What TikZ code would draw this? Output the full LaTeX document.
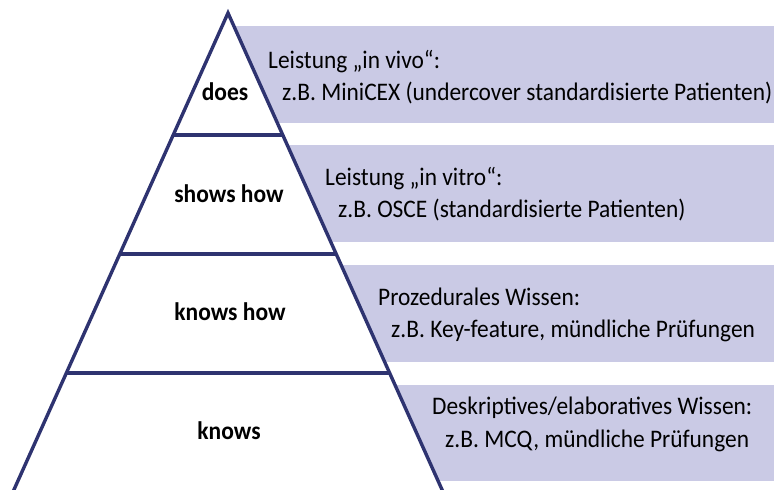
\documentclass[tikz,border=0pt]{standalone}
\usepackage{fontspec}
\usepackage{graphicx}
\setmainfont{Carlito}
\definecolor{navy}{HTML}{2E3370}
\definecolor{lav}{HTML}{CACAE5}
\newcommand{\tallx}[1]{\scalebox{1}[1.08]{#1}}
\begin{document}
\begin{tikzpicture}[x=1pt,y=-1pt,
  band/.style={fill=lav,draw=none},
  lvl/.style={font=\fontsize{23.5}{27}\selectfont\bfseries,anchor=base,inner sep=0pt},
  desc/.style={font=\fontsize{23.4}{27}\selectfont,anchor=base west,inner sep=0pt},
  edge/.style={draw=navy,line width=3.4pt}]
\useasboundingbox (0,0) rectangle (774,490);
\begin{scope}
\clip (0,0) rectangle (774,490);
% bands
\fill[band] (220,26) rectangle (774,123);
\fill[band] (220,145) rectangle (774,242);
\fill[band] (220,265) rectangle (774,362);
\fill[band] (220,385) rectangle (774,481);
% pyramid
\coordinate (apex) at (228,13);
\coordinate (bl) at ({228-0.449*497},510);
\coordinate (br) at ({228+0.449*497},510);
\fill[white] (apex) -- (bl) -- (br) -- cycle;
\draw[edge,line join=miter,miter limit=20] (bl) -- (apex) -- (br);
\foreach \n/\y in {a/135,b/254,c/373}{
  \coordinate (\n l) at ({228-0.449*(\y-13)},\y);
  \coordinate (\n r) at ({228+0.449*(\y-13)},\y);
  \draw[edge] (\n l) -- (\n r);
}
\end{scope}
% level labels
\node[lvl] (does) at (225,100) {\tallx{does}};
\node[lvl] (shows) at (229,202) {\tallx{shows how}};
\node[lvl] (knowshow) at (230,320) {\tallx{knows how}};
\node[lvl] (knows) at (229,439) {\tallx{knows}};
% descriptions
\node[desc] (d1a) at (268,68) {\tallx{Leistung „in vivo“:}};
\node[desc] (d1b) at (282,100) {\tallx{z.B. MiniCEX (undercover standardisierte Patienten)}};
\node[desc] (d2a) at (325,185) {\tallx{Leistung „in vitro“:}};
\node[desc] (d2b) at (338,217) {\tallx{z.B. OSCE (standardisierte Patienten)}};
\node[desc] (d3a) at (378,305) {\tallx{Prozedurales Wissen:}};
\node[desc] (d3b) at (391,337) {\tallx{z.B. Key-feature, mündliche Prüfungen}};
\node[desc] (d4a) at (432,414) {\tallx{Deskriptives/elaboratives Wissen:}};
\node[desc] (d4b) at (445,447) {\tallx{z.B. MCQ, mündliche Prüfungen}};
\end{tikzpicture}
\end{document}
